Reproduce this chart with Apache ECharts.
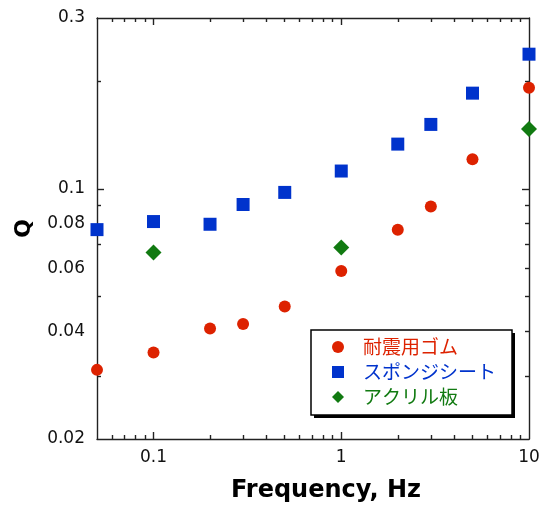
<!DOCTYPE html>
<html><head><meta charset="utf-8">
<script src="https://cdn.jsdelivr.net/npm/echarts@6/dist/echarts.min.js"></script>
<style>html,body{margin:0;padding:0;background:#fff}#c{width:544px;height:507px}</style>
</head><body><div id="c"></div>
<script>
// ---- data ----
const seriesNames = ['耐震用ゴム', 'スポンジシート', 'アクリル板'];
const freqRubber = [0.05, 0.1, 0.2, 0.3, 0.5, 1, 2, 3, 5, 10];
const qRubber = [0.0312, 0.0349, 0.0407, 0.0419, 0.0469, 0.0589, 0.0768, 0.0892, 0.1209, 0.1915];
const freqSponge = [0.05, 0.1, 0.2, 0.3, 0.5, 1, 2, 3, 5, 10];
const qSponge = [0.0769, 0.081, 0.0796, 0.0904, 0.0977, 0.1121, 0.1333, 0.1513, 0.185, 0.2377];
const freqAcrylic = [0.1, 1, 10];
const qAcrylic = [0.0664, 0.0685, 0.1468];

const xLabelValues = [0.1, 1, 10];
const xMajorTicks = [0.1, 1];
const xMinorTicks = [0.06, 0.07, 0.08, 0.09, 0.2, 0.3, 0.4, 0.5, 0.6, 0.7, 0.8, 0.9, 2, 3, 4, 5, 6, 7, 8, 9];
const yLabelValues = [0.02, 0.04, 0.06, 0.08, 0.1, 0.3];
const yMajorTicks = [0.1];
const yMinorTicksLeft = [0.03, 0.05, 0.07, 0.09, 0.2];
const yMinorTicksRight = [0.03, 0.04, 0.05, 0.06, 0.07, 0.08, 0.09, 0.2];

// ---- style ----
const colors = ['#dd2200', '#0033cc', '#117a11'];
const axisColor = '#222';
const lineW = 1.4;
const fmt = v => String(+Number(v).toPrecision(3));

function xAxis(pos, ticks, len, main) {
  return {
    type: 'log', logBase: 10, min: 0.05, max: 10, gridIndex: 0, position: pos,
    axisLine: { show: main, lineStyle: { color: axisColor, width: lineW } },
    axisTick: { show: true, inside: true, length: len, customValues: ticks, lineStyle: { color: axisColor, width: lineW } },
    axisLabel: main && pos === 'bottom' ? {
      show: true, customValues: xLabelValues, formatter: fmt, margin: 10,
      fontFamily: 'DejaVu Sans', fontSize: 17, color: '#111'
    } : { show: false },
    splitLine: { show: false }, minorTick: { show: false },
    name: main && pos === 'bottom' ? 'Frequency, Hz' : '',
    nameLocation: 'middle', nameGap: 40,
    nameTextStyle: { fontFamily: 'DejaVu Sans', fontWeight: 'bold', fontSize: 24, color: '#000', padding: [0, 0, 0, 26] }
  };
}
function yAxis(pos, ticks, len, main) {
  return {
    type: 'log', logBase: 10, min: 0.02, max: 0.3, gridIndex: 0, position: pos,
    axisLine: { show: main, lineStyle: { color: axisColor, width: lineW } },
    axisTick: { show: true, inside: true, length: len, customValues: ticks, lineStyle: { color: axisColor, width: lineW } },
    axisLabel: main && pos === 'left' ? {
      show: true, customValues: yLabelValues, formatter: fmt, margin: 12,
      fontFamily: 'DejaVu Sans', fontSize: 17, color: '#111'
    } : { show: false },
    splitLine: { show: false }, minorTick: { show: false },
    name: main && pos === 'left' ? 'Q' : '',
    nameLocation: 'middle', nameGap: 62, nameRotate: 90,
    nameTextStyle: { fontFamily: 'DejaVu Sans', fontWeight: 'bold', fontSize: 22, color: '#000' }
  };
}

const chart = echarts.init(document.getElementById('c'), null, { renderer: 'canvas' });
chart.setOption({
  animation: false,
  backgroundColor: '#fff',
  grid: { left: 97, right: 15, top: 18, bottom: 68, containLabel: false, outerBoundsMode: 'none' },
  xAxis: [
    xAxis('bottom', xMajorTicks, 7, true),
    xAxis('bottom', xMinorTicks, 4, false),
    xAxis('top', xMajorTicks, 7, true),
    xAxis('top', xMinorTicks, 4, false)
  ],
  yAxis: [
    yAxis('left', yMajorTicks, 7, true),
    yAxis('left', yMinorTicksLeft, 4, false),
    yAxis('right', yMajorTicks, 7, true),
    yAxis('right', yMinorTicksRight, 4, false)
  ],
  // drop shadow behind the legend box
  graphic: [{
    type: 'rect', z: 1, silent: true,
    shape: { x: 314, y: 333, width: 201, height: 85 },
    style: { fill: '#000' }
  }],
  legend: {
    z: 5,
    left: 311, top: 330, orient: 'vertical',
    itemWidth: 12, itemHeight: 12, itemGap: 5,
    padding: [7, 16, 8, 21],
    backgroundColor: '#fff', borderColor: '#000', borderWidth: 1.5, borderRadius: 0,
    textStyle: { fontFamily: 'Noto Sans CJK JP', fontSize: 19, lineHeight: 20, padding: [0, 0, 0, 14] },
    data: seriesNames.map((n, i) => ({ name: n, textStyle: { color: colors[i] } }))
  },
  series: [
    { type: 'scatter', name: seriesNames[0], xAxisIndex: 0, yAxisIndex: 0, clip: false,
      symbol: 'circle', symbolSize: 12, itemStyle: { color: colors[0], opacity: 1 },
      data: freqRubber.map((f, i) => [f, qRubber[i]]) },
    { type: 'scatter', name: seriesNames[1], xAxisIndex: 0, yAxisIndex: 0, clip: false,
      symbol: 'rect', symbolSize: 13, itemStyle: { color: colors[1], opacity: 1 },
      data: freqSponge.map((f, i) => [f, qSponge[i]]) },
    { type: 'scatter', name: seriesNames[2], xAxisIndex: 0, yAxisIndex: 0, clip: false,
      symbol: 'diamond', symbolSize: 16, itemStyle: { color: colors[2], opacity: 1 },
      data: freqAcrylic.map((f, i) => [f, qAcrylic[i]]) }
  ]
});
</script></body></html>
